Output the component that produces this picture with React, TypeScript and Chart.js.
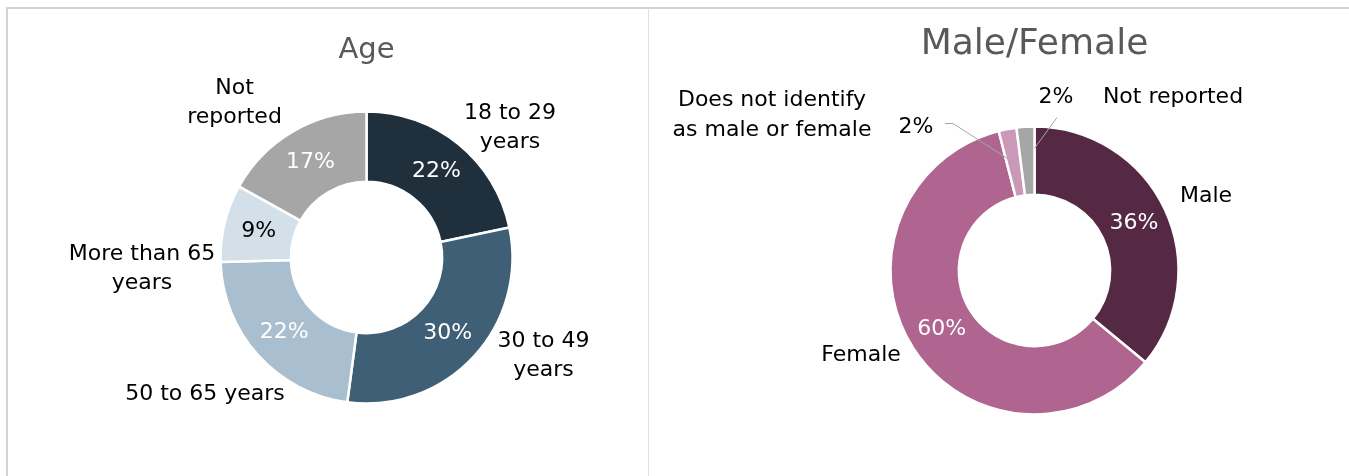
import React, { useEffect, useRef } from 'react';
import { Chart, registerables } from 'chart.js';

Chart.register(...registerables);

const FONT = '"DejaVu Sans", "Noto Sans", sans-serif';
const W = 1349;
const H = 476;

// ---------- Data: Age ----------
const ageCategories = [['18 to 29', 'years'], ['30 to 49', 'years'], ['50 to 65 years'], ['More than 65', 'years'], ['Not', 'reported']];
const ageValues = [21.7, 30.4, 22.4, 8.6, 16.9];
const ageColors = ['#1f2f3b', '#3e5f75', '#a9bfcf', '#d3e0e9', '#a6a6a6'];

// ---------- Data: Male/Female ----------
const genderCategories = [['Male'], ['Female'], ['Does not identify', 'as male or female'], ['Not reported']];
const genderValues = [36, 60, 2, 2];
const genderColors = ['#552843', '#b06591', '#cc98b8', '#a6a6a6'];

// ---------- Layout / style config ----------
const ageLayout = {
  title: 'Age', titleSize: 29, titleY: 50,
  cx: 366.5, cy: 257.5, R: 146, r: 75,
  pctColor: ['#ffffff', '#ffffff', '#ffffff', '#000000', '#ffffff'],
  pctOut: [null, null, null, null, null],
  nameAt: [[143.5, -129.5], [177, 98.5], [-161.5, 136.5], [-224.5, 11.5], [-132, -154.5]],
  lineH: 29,
  leaders: [null, null, null, null, null],
};

const genderLayout = {
  title: 'Male/Female', titleSize: 36, titleY: 45,
  cx: 1034.5, cy: 270.5, R: 144, r: 75,
  pctColor: ['#ffffff', '#ffffff', '#000000', '#000000'],
  pctOut: [null, null, [-118.5, -143], [21.5, -173]],
  nameAt: [[171.5, -74], [-173.5, 85], [-262.5, -155.5], [138.5, -173]],
  lineH: 30,
  leaders: [
    null,
    null,
    { pts: [[-89.5, -147], [-81.5, -147]], at: 'mid', frac: 0.5 },
    { pts: [[22.5, -153]], at: 'end', frac: 0.68 },
  ],
};

const labelPlugin = {
  id: 'sliceLabels',
  afterDatasetsDraw(chart: any, _args: any, opts: any) {
    const L = opts.layout;
    const ctx = chart.ctx;
    const meta = chart.getDatasetMeta(0);
    const values: number[] = chart.data.datasets[0].data;
    const cats: string[][] = chart.data.labels;
    ctx.save();
    // title
    ctx.font = `${L.titleSize}px ${FONT}`;
    ctx.fillStyle = '#595959';
    ctx.textAlign = 'center';
    ctx.textBaseline = 'middle';
    const cx0 = (chart.chartArea.left + chart.chartArea.right) / 2;
    ctx.fillText(L.title, cx0, L.titleY);

    ctx.font = `22px ${FONT}`;
    meta.data.forEach((arc: any, i: number) => {
      const p = arc.getProps(['x', 'y', 'startAngle', 'endAngle', 'innerRadius', 'outerRadius'], true);
      const mid = (p.startAngle + p.endAngle) / 2;
      const pct = Math.round(values[i]) + '%';
      // leader line
      const ld = L.leaders[i];
      if (ld) {
        const ang = ld.at === 'mid' ? mid : p.endAngle;
        const rho = p.innerRadius + (p.outerRadius - p.innerRadius) * ld.frac;
        ctx.beginPath();
        ctx.strokeStyle = '#a6a6a6';
        ctx.lineWidth = 1;
        ld.pts.forEach((pt: number[], k: number) => {
          const X = p.x + pt[0];
          const Y = p.y + pt[1];
          if (k === 0) ctx.moveTo(X, Y); else ctx.lineTo(X, Y);
        });
        ctx.lineTo(p.x + Math.cos(ang) * rho, p.y + Math.sin(ang) * rho);
        ctx.stroke();
      }
      // percentage
      ctx.fillStyle = L.pctColor[i];
      if (L.pctOut[i]) {
        ctx.fillText(pct, p.x + L.pctOut[i][0], p.y + L.pctOut[i][1]);
      } else {
        const rho = (p.innerRadius + p.outerRadius) / 2;
        ctx.fillText(pct, p.x + Math.cos(mid) * rho, p.y + Math.sin(mid) * rho);
      }
      // category name
      ctx.fillStyle = '#000000';
      const lines = cats[i];
      const [dx, dy] = L.nameAt[i];
      const y0 = p.y + dy - ((lines.length - 1) * L.lineH) / 2;
      lines.forEach((t: string, k: number) => {
        ctx.fillText(t, p.x + dx, y0 + k * L.lineH);
      });
    });
    ctx.restore();
  },
};

function Doughnut({ labels, values, colors, layout }: any) {
  const ref = useRef<HTMLCanvasElement | null>(null);
  useEffect(() => {
    if (!ref.current) return;
    const L = layout;
    const chart = new Chart(ref.current, {
      type: 'doughnut',
      data: {
        labels,
        datasets: [{
          data: values,
          backgroundColor: colors,
          borderColor: '#ffffff',
          borderWidth: 2.5,
        }],
      },
      options: {
        responsive: false,
        animation: false,
        radius: L.R,
        cutout: L.r,
        events: [],
        layout: {
          padding: {
            left: L.cx - L.R,
            right: W - L.cx - L.R,
            top: L.cy - L.R,
            bottom: H - L.cy - L.R,
          },
        },
        plugins: {
          legend: { display: false },
          tooltip: { enabled: false },
          title: { display: false },
          sliceLabels: { layout: L },
        } as any,
      } as any,
      plugins: [labelPlugin],
    });
    return () => chart.destroy();
  }, []);
  return (
    <canvas
      ref={ref}
      width={W}
      height={H}
      style={{ position: 'absolute', left: 0, top: 0, width: W, height: H }}
    />
  );
}

export default function App() {
  return (
    <div style={{ position: 'fixed', left: 0, top: 0, width: W, height: H, background: '#ffffff', overflow: 'hidden' }}>
      <div style={{ position: 'absolute', left: 6, top: 7, width: 640, height: 480, borderTop: '2px solid #d4d4d4', borderLeft: '2px solid #d4d4d4' }} />
      <div style={{ position: 'absolute', left: 648, top: 7, width: 700, height: 480, borderTop: '2px solid #d4d4d4', borderLeft: '1px solid #e0e0e0' }} />
      <Doughnut labels={ageCategories} values={ageValues} colors={ageColors} layout={ageLayout} />
      <Doughnut labels={genderCategories} values={genderValues} colors={genderColors} layout={genderLayout} />
    </div>
  );
}
